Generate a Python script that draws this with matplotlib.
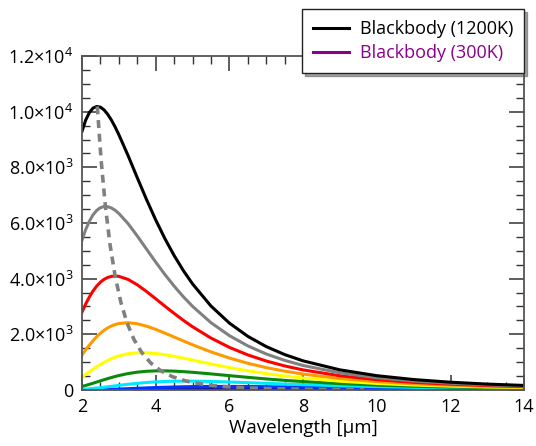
import matplotlib
matplotlib.use("Agg")
import matplotlib.pyplot as plt
from matplotlib.ticker import MultipleLocator, FuncFormatter

plt.rcParams["font.family"] = ["Open Sans", "DejaVu Sans"]
plt.rcParams["mathtext.fontset"] = "custom"
plt.rcParams["mathtext.rm"] = "Open Sans"
plt.rcParams["mathtext.it"] = "Open Sans"
plt.rcParams["mathtext.bf"] = "Open Sans"

# wavelength grid [um] and spectral radiance values
wavelength = [2.0, 2.1, 2.2, 2.3, 2.4, 2.5, 2.6, 2.7, 2.8, 2.9, 3.0, 3.25, 3.5, 3.75,
              4.0, 4.25, 4.5, 4.75, 5.0, 5.5, 6.0, 6.5, 7.0, 7.5, 8.0, 9.0, 10.0,
              11.0, 12.0, 13.0, 14.0]

bb_1200 = [9296, 9697, 9971, 10131, 10187, 10162, 10062, 9901, 9693, 9448, 9173, 8423,
           7626, 6846, 6110, 5437, 4831, 4290, 3811, 3016, 2403, 1927, 1559, 1272, 1046,
           723, 514, 375, 279, 212, 163]
bb_1100 = [5384, 5763, 6066, 6294, 6454, 6550, 6593, 6586, 6538, 6455, 6343, 5977,
           5534, 5063, 4595, 4148, 3732, 3350, 3005, 2418, 1952, 1584, 1293, 1063, 880,
           616, 441, 324, 242, 185, 143]
bb_1000 = [2798, 3089, 3343, 3558, 3735, 3874, 3977, 4044, 4083, 4095, 4083, 3973,
           3780, 3539, 3277, 3011, 2751, 2503, 2272, 1866, 1531, 1260, 1041, 864, 721,
           511, 370, 274, 207, 158, 123]
bb_900 = [1257, 1441, 1615, 1774, 1916, 2040, 2146, 2232, 2301, 2352, 2388, 2418,
          2379, 2293, 2177, 2044, 1903, 1762, 1624, 1368, 1147, 959, 804, 676, 570,
          411, 302, 226, 172, 133, 104]
bb_800 = [463, 557, 651, 744, 833, 917, 994, 1064, 1125, 1179, 1224, 1303,
          1338, 1338, 1311, 1266, 1208, 1143, 1074, 935, 805, 689, 588, 502, 429,
          316, 236, 179, 138, 107, 85]
bb_700 = [128, 164, 203, 243, 286, 328, 370, 410, 449, 486, 519, 590,
          640, 672, 686, 687, 677, 659, 635, 578, 515, 454, 397, 346, 302,
          229, 175, 135, 105, 83, 66]
bb_600 = [23, 32, 43, 55, 69, 83, 99, 115, 132, 149, 166, 205,
          240, 269, 291, 306, 315, 318, 318, 306, 287, 263, 238, 214, 191,
          151, 119, 94, 75, 60, 49]
bb_500 = [2.1, 3.3, 4.8, 6.8, 9.3, 12.2, 15.7, 19.5, 23.8, 28.5, 33.5, 46.9,
          61.0, 74.7, 87.4, 98.6, 108, 115.5, 121, 127, 128, 124, 118, 111, 102,
          86, 71, 58, 48, 39, 33]
bb_400 = [0.06, 0.11, 0.18, 0.30, 0.46, 0.69, 0.98, 1.36, 1.8, 2.4, 3.0, 5.1,
          7.8, 11.0, 14.5, 18.1, 21.8, 25.3, 28.6, 34.2, 38.3, 40.7, 41.8, 41.8, 41.0,
          37.8, 33.6, 29.2, 25.1, 21.5, 18.4]
bb_300 = [0.0, 0.0, 0.0, 0.0, 0.0, 0.01, 0.01, 0.02, 0.03, 0.04, 0.06, 0.13,
          0.25, 0.45, 0.72, 1.08, 1.5, 2.0, 2.6, 3.9, 5.2, 6.4, 7.5, 8.4, 9.1,
          9.8, 9.9, 9.6, 9.0, 8.2, 7.4]

# locus of the peaks (dashed)
peak_wl = [2.415, 2.520, 2.635, 2.760, 2.898, 3.051, 3.220, 3.409, 3.623, 3.864,
           4.140, 4.458, 4.830, 5.269, 5.796, 6.440, 7.245, 8.280, 9.660]
peak_val = [10190, 8237, 6595, 5227, 4095, 3169, 2418, 1817, 1342, 972,
            688, 475, 318, 206, 128, 76, 42, 21.5, 10]

fig = plt.figure(figsize=(5.36, 4.46), dpi=100)
ax = fig.add_axes([0.153, 0.1256, 0.825, 0.7488])

lw = 2.2
series = [
    (bb_300, "#8b008b"),
    (bb_400, "#1a1a9a"),
    (bb_500, "#0033ff"),
    (bb_600, "#00e8ff"),
    (bb_700, "#0a8a0a"),
    (bb_800, "#ffff00"),
    (bb_900, "#ff9900"),
    (bb_1000, "#ff0000"),
    (bb_1100, "#808080"),
    (bb_1200, "#000000"),
]
handles = {}
for vals, col in series:
    ln, = ax.plot(wavelength, vals, color=col, lw=lw, solid_joinstyle="round")
    handles[col] = ln

ax.plot(peak_wl, peak_val, color="#808080", lw=2.6, ls=(0, (2.2, 1.6)))

ax.set_xlim(2, 14)
ax.set_ylim(0, 12000)
ax.xaxis.set_major_locator(MultipleLocator(2))
ax.xaxis.set_minor_locator(MultipleLocator(0.5))
ax.yaxis.set_major_locator(MultipleLocator(2000))
ax.yaxis.set_minor_locator(MultipleLocator(500))


def sci(v, pos):
    if v == 0:
        return "0"
    e = 0
    m = v
    while m >= 10:
        m /= 10
        e += 1
    return "%.1f×10$^{%d}$" % (m, e)


ax.yaxis.set_major_formatter(FuncFormatter(sci))
ax.tick_params(which="both", direction="in", top=True, right=True,
               color="#333333", labelsize=13)
ax.tick_params(which="major", length=11, width=1.1, pad=6)
ax.tick_params(which="minor", length=5.5, width=1.0)
for sp in ax.spines.values():
    sp.set_color("#555555")
    sp.set_linewidth(1.3)

ax.set_xlabel("Wavelength [µm]", fontsize=13.5, labelpad=2)

leg = ax.legend([handles["#000000"], handles["#8b008b"]],
                ["Blackbody (1200K)", "Blackbody (300K)"],
                loc="upper right", bbox_to_anchor=(1.0, 1.14), borderaxespad=0,
                fontsize=13, frameon=True, fancybox=False, shadow=True,
                edgecolor="#222222", handlelength=2.0, handletextpad=0.6,
                borderpad=0.6, labelspacing=0.35)
leg.get_frame().set_linewidth(1.0)
leg.get_texts()[1].set_color("#8b008b")

fig.savefig("out.png", dpi=100)
